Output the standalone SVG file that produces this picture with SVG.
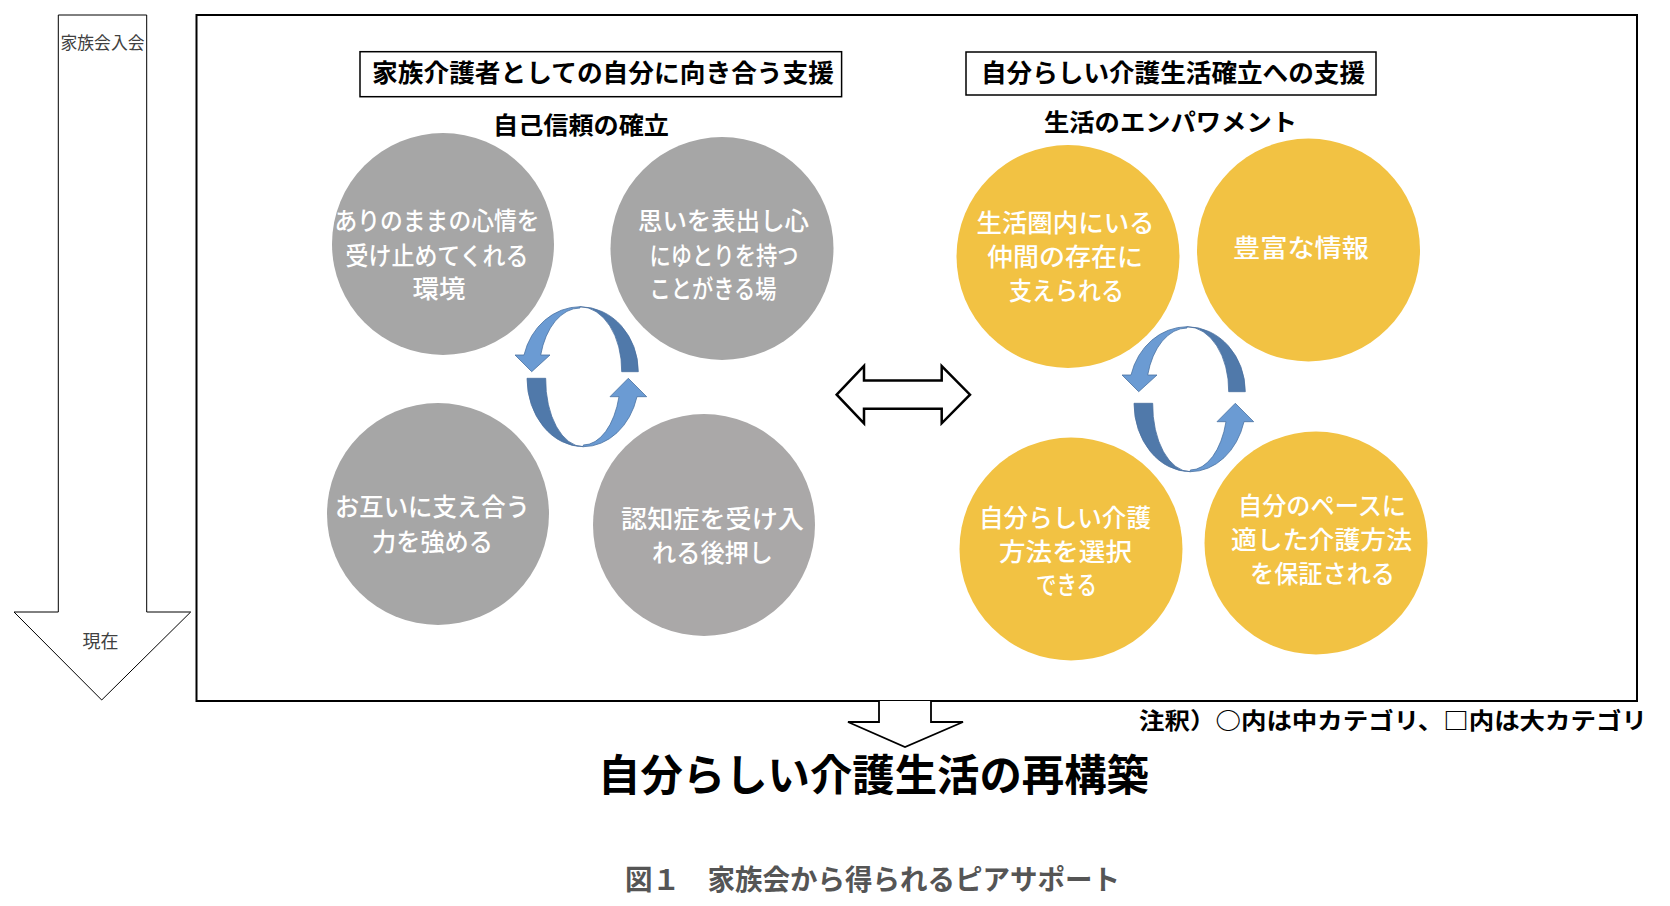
<svg xmlns="http://www.w3.org/2000/svg" width="1670" height="906" viewBox="0 0 1670 906">
<style>
.bt{font-family:"Noto Sans CJK JP","Noto Sans",sans-serif;font-weight:700;fill:#000;text-anchor:middle}
.ct{font-family:"Noto Sans CJK JP","Noto Sans",sans-serif;font-weight:500;fill:#fff;font-size:25px;text-anchor:middle}
.sm{font-family:"Noto Sans CJK JP","Noto Sans",sans-serif;font-weight:400;fill:#404040;text-anchor:middle}
.grey{fill:#a6a6a6}
.yel{fill:#f2c243}
.dk{fill:#5079aa;stroke:#4a70a0;stroke-width:0.8}
.lt{fill:#6b9bd3;stroke:#4a72a2;stroke-width:0.8}
.box{fill:#fff;stroke:#000;stroke-width:1.5}
</style>
<defs>
<g id="arrTop">
<path class="dk" d="M 638.3 371.7 A 58.3 65 0 0 0 580 306.7 A 41.7 63.7 0 0 1 621.7 371.7 Z"/>
<path class="lt" d="M 580 306.7 A 58.3 65 0 0 0 524 355 L 515 355 L 531.7 371.7 L 550 355 L 540.7 355 A 40.7 63.7 0 0 1 580 308 Z"/>
</g>
<g id="arrBot">
<path class="dk" d="M 527 378.3 A 56.3 68.4 0 0 0 583.3 446.7 A 37.6 66.7 0 0 1 545.7 378.3 Z"/>
<path class="lt" d="M 583.3 446.7 A 55.8 68.4 0 0 0 637 396.7 L 646.7 396.7 L 628.3 378.3 L 610 396.7 L 619 396.7 A 37.1 66.7 0 0 1 583.3 445 Z"/>
</g>
</defs>

<g id="timeline">
<path d="M 58.3 15 L 146.7 15 L 146.7 612 L 190.7 612 L 101.7 700 L 14 612 L 58.3 612 Z" fill="#fff" stroke="#000" stroke-width="1"/>
<text class="sm" x="102.5" y="48.5" font-size="17" textLength="84" lengthAdjust="spacingAndGlyphs">家族会入会</text>
<text class="sm" x="100.5" y="647.5" font-size="18">現在</text>
</g>

<g id="main-frame">
<rect x="196.5" y="15" width="1440.5" height="686" fill="#fff" stroke="#000" stroke-width="2"/>
</g>

<g id="category-left">
<rect class="box" x="360" y="51.7" width="481.6" height="45"/>
<text class="bt" x="603" y="81.5" font-size="25" textLength="462" lengthAdjust="spacingAndGlyphs">家族介護者としての自分に向き合う支援</text>
<text class="bt" x="581" y="134" font-size="24" textLength="176" lengthAdjust="spacingAndGlyphs">自己信頼の確立</text>
</g>

<g id="category-right">
<rect class="box" x="966" y="52" width="410" height="43"/>
<text class="bt" x="1173" y="81.5" font-size="25" textLength="384" lengthAdjust="spacingAndGlyphs">自分らしい介護生活確立への支援</text>
<text class="bt" x="1170.5" y="131" font-size="24" textLength="253" lengthAdjust="spacingAndGlyphs">生活のエンパワメント</text>
</g>

<g id="c1">
<circle class="grey" cx="443" cy="244" r="111"/>
<text class="ct" x="437" y="230" textLength="205" lengthAdjust="spacingAndGlyphs">ありのままの心情を</text>
<text class="ct" x="437" y="264.5" textLength="183" lengthAdjust="spacingAndGlyphs">受け止めてくれる</text>
<text class="ct" x="439" y="298" textLength="53" lengthAdjust="spacingAndGlyphs">環境</text>
</g>

<g id="c2">
<circle class="grey" cx="722" cy="248.5" r="111.5"/>
<text class="ct" x="723.5" y="230" textLength="171" lengthAdjust="spacingAndGlyphs">思いを表出し心</text>
<text class="ct" x="724" y="264.5" textLength="149" lengthAdjust="spacingAndGlyphs">にゆとりを持つ</text>
<text class="ct" x="713" y="298" textLength="127" lengthAdjust="spacingAndGlyphs">ことがきる場</text>
</g>

<g id="c3">
<circle class="grey" cx="438" cy="514" r="111"/>
<text class="ct" x="432.5" y="516" textLength="195" lengthAdjust="spacingAndGlyphs">お互いに支え合う</text>
<text class="ct" x="432.5" y="550.5" textLength="121" lengthAdjust="spacingAndGlyphs">力を強める</text>
</g>

<g id="c4">
<circle cx="704" cy="525" r="111" fill="#aaa8a8"/>
<text class="ct" x="712.5" y="528" textLength="183" lengthAdjust="spacingAndGlyphs">認知症を受け入</text>
<text class="ct" x="712.5" y="562" textLength="121" lengthAdjust="spacingAndGlyphs">れる後押し</text>
</g>

<g id="y1">
<circle class="yel" cx="1068" cy="256.5" r="111.5"/>
<text class="ct" x="1065.5" y="231.5" textLength="178" lengthAdjust="spacingAndGlyphs">生活圏内にいる</text>
<text class="ct" x="1065" y="266" textLength="156" lengthAdjust="spacingAndGlyphs">仲間の存在に</text>
<text class="ct" x="1066.5" y="300" textLength="115" lengthAdjust="spacingAndGlyphs">支えられる</text>
</g>

<g id="y2">
<circle class="yel" cx="1308.5" cy="250" r="111.5"/>
<text class="ct" x="1301" y="256.5" textLength="136" lengthAdjust="spacingAndGlyphs">豊富な情報</text>
</g>

<g id="y3">
<circle class="yel" cx="1071" cy="549" r="111.5"/>
<text class="ct" x="1065" y="526.5" textLength="172" lengthAdjust="spacingAndGlyphs">自分らしい介護</text>
<text class="ct" x="1065.5" y="560.5" textLength="133" lengthAdjust="spacingAndGlyphs">方法を選択</text>
<text class="ct" x="1066.5" y="594" textLength="61" lengthAdjust="spacingAndGlyphs">できる</text>
</g>

<g id="y4">
<circle class="yel" cx="1316" cy="543" r="111.5"/>
<text class="ct" x="1322" y="514.5" textLength="168" lengthAdjust="spacingAndGlyphs">自分のペースに</text>
<text class="ct" x="1321.5" y="548.5" textLength="181" lengthAdjust="spacingAndGlyphs">適した介護方法</text>
<text class="ct" x="1322.5" y="582.5" textLength="145" lengthAdjust="spacingAndGlyphs">を保証される</text>
</g>

<g id="connectors">
<use href="#arrTop"/>
<use href="#arrBot"/>
<use href="#arrTop" transform="translate(607,20)"/>
<use href="#arrBot" transform="translate(607,25)"/>
<path d="M 836.7 394.7 L 864 366 L 864 380.5 L 941.7 380.5 L 941.7 366 L 970 394.7 L 941.7 423.3 L 941.7 408.8 L 864 408.8 L 864 423.3 Z" fill="#fff" stroke="#000" stroke-width="2.5" stroke-linejoin="miter"/>
<path d="M 879 701 L 879 722 L 848 722 L 905 747 L 963 722 L 931 722 L 931 701" fill="#fff" stroke="#000" stroke-width="1.8"/>
</g>

<g id="note">
<text class="bt" x="1393" y="729" font-size="23" textLength="508" lengthAdjust="spacingAndGlyphs">注釈）○内は中カテゴリ、□内は大カテゴリ</text>
</g>

<g id="result">
<text class="bt" x="873.5" y="791" font-size="43" textLength="551" lengthAdjust="spacingAndGlyphs">自分らしい介護生活の再構築</text>
</g>

<g id="caption">
<text class="bt" x="872.5" y="890" font-size="28" style="fill:#555" textLength="495" lengthAdjust="spacingAndGlyphs">図１　家族会から得られるピアサポート</text>
</g>
</svg>
